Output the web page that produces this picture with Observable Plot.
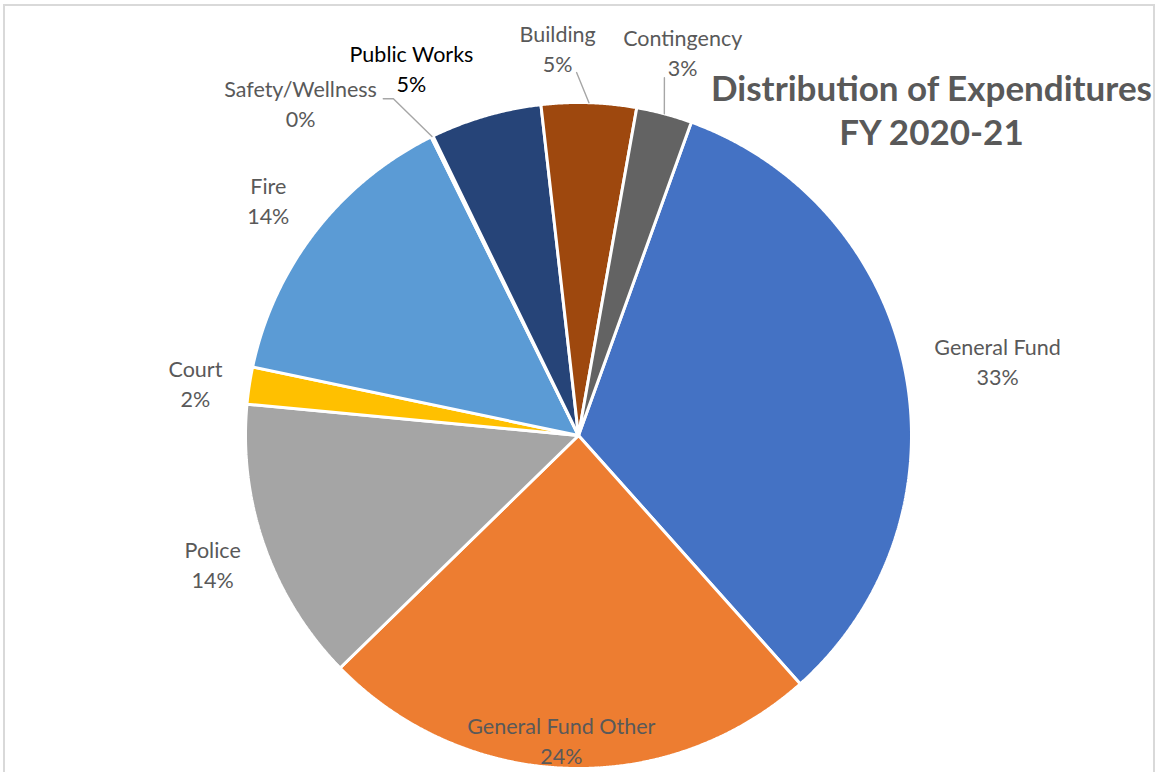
<!DOCTYPE html>
<html><head><meta charset="utf-8">
<script src="https://cdn.jsdelivr.net/npm/d3@7"></script>
<script src="https://cdn.jsdelivr.net/npm/@observablehq/plot@0.6"></script>
<style>
body{margin:0;background:#fff;overflow:hidden}
#wrap{position:relative;width:1156px;height:772px}
#frame{position:absolute;left:3px;top:4px;width:1148px;height:820px;border:2px solid #d9d9d9;pointer-events:none}
</style>
</head><body><div id="wrap"><div id="chart"></div><div id="frame"></div></div>
<script>
// ---- data ----
const categories = ["General Fund","General Fund Other","Police","Court","Fire","Safety/Wellness","Public Works","Building","Contingency"];
const values = [32.9, 24.3, 13.8, 1.8, 14.4, 0.1, 5.4, 4.6, 2.7];
const colors = ["#4472C4","#ED7D31","#A5A5A5","#FFC000","#5B9BD5","#70AD47","#264478","#9E480E","#636363"];
const titleLines = ["Distribution of Expenditures", "FY 2020-21"];

// ---- layout config (label placement: angle in degrees clockwise from top, radius relative to pie) ----
const startAngle = 19.8;
const labelPlace = {
  "General Fund": [80.25, 1.277],
  "General Fund Other": [183.2, 0.923],
  "Police": [250.3, 1.167],
  "Court": [277.4, 1.160],
  "Fire": [306.9, 1.165],
  "Safety/Wellness": [319.9, 1.296],
  "Public Works": [335.4, 1.205],
  "Building": [356.9, 1.158],
  "Contingency": [15.3, 1.186]
};
const leaderPlace = {
  "Safety/Wellness": [[329.9, 1.169], [331.2, 1.154]],
  "Building": [[359.7, 1.09]],
  "Contingency": [[13.5, 1.105]]
};
const labelColor = {"Public Works": "#000000"};

const rad = d => d * Math.PI / 180;
const pt = (a, r) => ({x: Math.sin(rad(a)) * r, y: Math.cos(rad(a)) * r});

const total = d3.sum(values);
let acc = 0;
const slices = categories.map((c, i) => {
  const a0 = startAngle + acc / total * 360;
  acc += values[i];
  const a1 = startAngle + acc / total * 360;
  return {cat: c, value: values[i], a0, a1, mid: (a0 + a1) / 2};
});

const polyPts = [];
for (const s of slices) {
  polyPts.push({cat: s.cat, x: 0, y: 0});
  const n = Math.max(2, Math.ceil((s.a1 - s.a0) / 0.25));
  for (let k = 0; k <= n; k++) {
    const p = pt(s.a0 + (s.a1 - s.a0) * k / n, 1);
    polyPts.push({cat: s.cat, ...p});
  }
  polyPts.push({cat: s.cat, x: 0, y: 0});
}

const labels = slices.map(s => {
  const [a, r] = labelPlace[s.cat];
  return {cat: s.cat, ...pt(a, r), text: s.cat + "\n" + Math.round(s.value / total * 100) + "%",
          color: labelColor[s.cat] || "#595959"};
});

const leaderPts = [];
for (const s of slices) {
  if (!leaderPlace[s.cat]) continue;
  for (const [a, r] of leaderPlace[s.cat]) leaderPts.push({cat: s.cat, ...pt(a, r)});
  leaderPts.push({cat: s.cat, ...pt(s.mid, 1.0)});
}

const font = "Lato, 'Open Sans', sans-serif";
const cx = 578, cy = 435, R = 333;

const plot = Plot.plot({
  width: 1156, height: 772,
  margin: 0,
  x: {domain: [-1, 1], range: [cx - R, cx + R], axis: null},
  y: {domain: [-1, 1], range: [cy + R, cy - R], axis: null},
  color: {domain: categories, range: colors},
  style: {fontFamily: font, background: "white", overflow: "visible"},
  marks: [
    Plot.line(polyPts, {x: "x", y: "y", z: "cat", fill: "cat", stroke: "white", strokeWidth: 3, strokeLinejoin: "miter"}),
    Plot.line(leaderPts, {x: "x", y: "y", z: "cat", stroke: "#a6a6a6", strokeWidth: 1.4}),
    Plot.text(labels, {x: "x", y: "y", dy: -3, text: "text", fill: "color", fontSize: 21.5, lineHeight: 1.4, fontFamily: font}),
    Plot.text([titleLines.join("\n")], {frameAnchor: "top-left", dx: 931, dy: 108, textAnchor: "middle", lineAnchor: "middle",
      fontSize: 35, fontWeight: "bold", fill: "#595959", lineHeight: 1.26, fontFamily: font})
  ]
});
document.getElementById("chart").appendChild(plot);
</script>
</body></html>
